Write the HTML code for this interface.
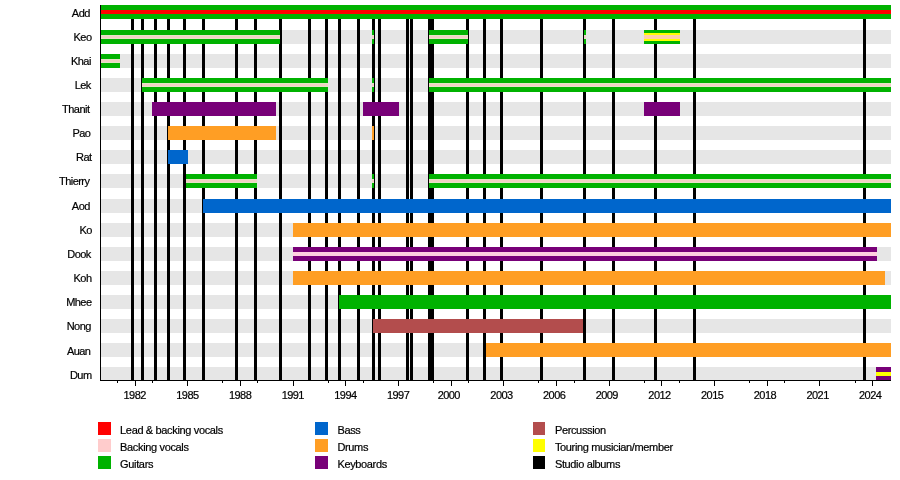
<!DOCTYPE html>
<html><head><meta charset="utf-8"><title>Timeline</title>
<style>
html,body{margin:0;padding:0;background:#fff;}
body{width:900px;height:480px;position:relative;overflow:hidden;font-family:"Liberation Sans",sans-serif;font-size:11px;color:#000;}
.a{position:absolute;}
.bg{position:absolute;left:101px;width:790px;height:14.2px;background:#e6e6e6;}
.ln{position:absolute;top:19px;height:361px;width:3px;background:#000;}
.nm{position:absolute;left:0;width:89.8px;text-align:right;height:14px;line-height:14px;letter-spacing:-0.55px;white-space:nowrap;-webkit-text-stroke:0.2px #000;}
.yr{position:absolute;top:388px;width:40px;text-align:center;height:14px;line-height:14px;letter-spacing:-0.55px;-webkit-text-stroke:0.2px #000;}
.tk{position:absolute;top:380px;width:1px;background:#000;}
.sq{position:absolute;width:12.5px;height:12.8px;}
.lg{position:absolute;height:14px;line-height:14px;letter-spacing:-0.35px;white-space:nowrap;-webkit-text-stroke:0.2px #000;}
</style></head><body>

<div class="bg" style="top:5px"></div>
<div class="bg" style="top:30px"></div>
<div class="bg" style="top:54px"></div>
<div class="bg" style="top:78px"></div>
<div class="bg" style="top:102px"></div>
<div class="bg" style="top:126px"></div>
<div class="bg" style="top:150px"></div>
<div class="bg" style="top:174px"></div>
<div class="bg" style="top:199px"></div>
<div class="bg" style="top:223.3px"></div>
<div class="bg" style="top:247px"></div>
<div class="bg" style="top:271px"></div>
<div class="bg" style="top:295px"></div>
<div class="bg" style="top:319px"></div>
<div class="bg" style="top:343px"></div>
<div class="bg" style="top:367px"></div>
<div class="ln" style="left:130.9px"></div>
<div class="ln" style="left:140.7px"></div>
<div class="ln" style="left:154.1px"></div>
<div class="ln" style="left:166.9px"></div>
<div class="ln" style="left:182.9px"></div>
<div class="ln" style="left:202.1px"></div>
<div class="ln" style="left:234.9px"></div>
<div class="ln" style="left:254.1px"></div>
<div class="ln" style="left:278.9px"></div>
<div class="ln" style="left:307.8px"></div>
<div class="ln" style="left:324.7px"></div>
<div class="ln" style="left:338.1px"></div>
<div class="ln" style="left:357.0px"></div>
<div class="ln" style="left:372.0px"></div>
<div class="ln" style="left:377.9px"></div>
<div class="ln" style="left:406.0px"></div>
<div class="ln" style="left:410.0px"></div>
<div class="ln" style="left:428.4px"></div>
<div class="ln" style="left:431.0px"></div>
<div class="ln" style="left:466.2px"></div>
<div class="ln" style="left:482.9px"></div>
<div class="ln" style="left:499.8px"></div>
<div class="ln" style="left:540.1px"></div>
<div class="ln" style="left:582.9px"></div>
<div class="ln" style="left:611.8px"></div>
<div class="ln" style="left:654.1px"></div>
<div class="ln" style="left:692.9px"></div>
<div class="ln" style="left:862.9px"></div>
<div class="a" style="left:101px;top:5px;width:790.0px;height:14px;background:#00b200"></div>
<div class="a" style="left:101px;top:10px;width:790.0px;height:4px;background:#ff0000"></div>
<div class="a" style="left:101px;top:30px;width:178.7px;height:14px;background:#00b200"></div>
<div class="a" style="left:101px;top:35px;width:178.7px;height:4px;background:linear-gradient(#dcefc6,#efd2c4 30%,#efd2c4 70%,#dcefc6)"></div>
<div class="a" style="left:372px;top:30px;width:2.0px;height:14px;background:#00b200"></div>
<div class="a" style="left:372px;top:35px;width:2.0px;height:4px;background:linear-gradient(#dcefc6,#efd2c4 30%,#efd2c4 70%,#dcefc6)"></div>
<div class="a" style="left:429.4px;top:30px;width:38.4px;height:14px;background:#00b200"></div>
<div class="a" style="left:429.4px;top:35px;width:38.4px;height:4px;background:linear-gradient(#dcefc6,#efd2c4 30%,#efd2c4 70%,#dcefc6)"></div>
<div class="a" style="left:584.4px;top:30px;width:1.8px;height:14px;background:#00b200"></div>
<div class="a" style="left:584.4px;top:35px;width:1.8px;height:4px;background:linear-gradient(#dcefc6,#efd2c4 30%,#efd2c4 70%,#dcefc6)"></div>
<div class="a" style="left:644px;top:30px;width:36.0px;height:14px;background:#00b200"></div>
<div class="a" style="left:644px;top:33px;width:36.0px;height:8px;background:#ffff00"></div>
<div class="a" style="left:644px;top:35px;width:36.0px;height:4px;background:#ffcfa8"></div>
<div class="a" style="left:101px;top:54px;width:19.0px;height:14px;background:#00b200"></div>
<div class="a" style="left:101px;top:59px;width:19.0px;height:4px;background:linear-gradient(#dcefc6,#efd2c4 30%,#efd2c4 70%,#dcefc6)"></div>
<div class="a" style="left:142px;top:78px;width:185.7px;height:14px;background:#00b200"></div>
<div class="a" style="left:142px;top:83px;width:185.7px;height:4px;background:linear-gradient(#dcefc6,#efd2c4 30%,#efd2c4 70%,#dcefc6)"></div>
<div class="a" style="left:372px;top:78px;width:2.0px;height:14px;background:#00b200"></div>
<div class="a" style="left:372px;top:83px;width:2.0px;height:4px;background:linear-gradient(#dcefc6,#efd2c4 30%,#efd2c4 70%,#dcefc6)"></div>
<div class="a" style="left:429.4px;top:78px;width:461.6px;height:14px;background:#00b200"></div>
<div class="a" style="left:429.4px;top:83px;width:461.6px;height:4px;background:linear-gradient(#dcefc6,#efd2c4 30%,#efd2c4 70%,#dcefc6)"></div>
<div class="a" style="left:152px;top:102px;width:123.8px;height:14px;background:#780078"></div>
<div class="a" style="left:363.2px;top:102px;width:35.7px;height:14px;background:#780078"></div>
<div class="a" style="left:644px;top:102px;width:36.0px;height:14px;background:#780078"></div>
<div class="a" style="left:168px;top:126px;width:107.8px;height:14px;background:#ff9e24"></div>
<div class="a" style="left:372px;top:126px;width:2.0px;height:14px;background:#ff9e24"></div>
<div class="a" style="left:168px;top:150px;width:20.2px;height:14px;background:#0066cc"></div>
<div class="a" style="left:186px;top:174px;width:70.8px;height:14px;background:#00b200"></div>
<div class="a" style="left:186px;top:179px;width:70.8px;height:4px;background:linear-gradient(#dcefc6,#efd2c4 30%,#efd2c4 70%,#dcefc6)"></div>
<div class="a" style="left:372px;top:174px;width:2.0px;height:14px;background:#00b200"></div>
<div class="a" style="left:372px;top:179px;width:2.0px;height:4px;background:linear-gradient(#dcefc6,#efd2c4 30%,#efd2c4 70%,#dcefc6)"></div>
<div class="a" style="left:429.4px;top:174px;width:461.6px;height:14px;background:#00b200"></div>
<div class="a" style="left:429.4px;top:179px;width:461.6px;height:4px;background:linear-gradient(#dcefc6,#efd2c4 30%,#efd2c4 70%,#dcefc6)"></div>
<div class="a" style="left:202.8px;top:199px;width:688.2px;height:14px;background:#0066cc"></div>
<div class="a" style="left:293px;top:223.3px;width:598.0px;height:14px;background:#ff9e24"></div>
<div class="a" style="left:293px;top:247px;width:583.8px;height:14px;background:#780078"></div>
<div class="a" style="left:293px;top:252px;width:583.8px;height:4px;background:#ffcfe0"></div>
<div class="a" style="left:293px;top:271px;width:592.1px;height:14px;background:#ff9e24"></div>
<div class="a" style="left:338.8px;top:295px;width:552.2px;height:14px;background:#00b200"></div>
<div class="a" style="left:373.1px;top:319px;width:210.0px;height:14px;background:#b34d4d"></div>
<div class="a" style="left:486.1px;top:343px;width:404.9px;height:14px;background:#ff9e24"></div>
<div class="a" style="left:876.3px;top:367px;width:14.7px;height:14px;background:#780078"></div>
<div class="a" style="left:876.3px;top:372px;width:14.7px;height:4px;background:#ffff00"></div>
<div class="a" style="left:100px;top:5px;width:1px;height:376px;background:#000"></div>
<div class="a" style="left:100px;top:380px;width:791px;height:1px;background:#000"></div>
<div class="tk" style="left:117.0px;height:2.7px"></div>
<div class="tk" style="left:134.5px;height:5.5px"></div>
<div class="yr" style="left:114.7px">1982</div>
<div class="tk" style="left:152.1px;height:2.7px"></div>
<div class="tk" style="left:187.2px;height:5.5px"></div>
<div class="yr" style="left:167.4px">1985</div>
<div class="tk" style="left:222.3px;height:2.7px"></div>
<div class="tk" style="left:239.9px;height:5.5px"></div>
<div class="yr" style="left:220.1px">1988</div>
<div class="tk" style="left:257.4px;height:2.7px"></div>
<div class="tk" style="left:292.6px;height:5.5px"></div>
<div class="yr" style="left:272.8px">1991</div>
<div class="tk" style="left:327.7px;height:2.7px"></div>
<div class="tk" style="left:345.2px;height:5.5px"></div>
<div class="yr" style="left:325.4px">1994</div>
<div class="tk" style="left:362.8px;height:2.7px"></div>
<div class="tk" style="left:397.9px;height:5.5px"></div>
<div class="yr" style="left:378.1px">1997</div>
<div class="tk" style="left:433.0px;height:2.7px"></div>
<div class="tk" style="left:450.6px;height:5.5px"></div>
<div class="yr" style="left:428.8px">2000</div>
<div class="tk" style="left:468.2px;height:2.7px"></div>
<div class="tk" style="left:503.3px;height:5.5px"></div>
<div class="yr" style="left:481.5px">2003</div>
<div class="tk" style="left:538.4px;height:2.7px"></div>
<div class="tk" style="left:556.0px;height:5.5px"></div>
<div class="yr" style="left:534.2px">2006</div>
<div class="tk" style="left:573.5px;height:2.7px"></div>
<div class="tk" style="left:608.6px;height:5.5px"></div>
<div class="yr" style="left:586.8px">2009</div>
<div class="tk" style="left:643.8px;height:2.7px"></div>
<div class="tk" style="left:661.3px;height:5.5px"></div>
<div class="yr" style="left:639.5px">2012</div>
<div class="tk" style="left:678.9px;height:2.7px"></div>
<div class="tk" style="left:714.0px;height:5.5px"></div>
<div class="yr" style="left:692.2px">2015</div>
<div class="tk" style="left:749.1px;height:2.7px"></div>
<div class="tk" style="left:766.7px;height:5.5px"></div>
<div class="yr" style="left:744.9px">2018</div>
<div class="tk" style="left:784.2px;height:2.7px"></div>
<div class="tk" style="left:819.4px;height:5.5px"></div>
<div class="yr" style="left:797.6px">2021</div>
<div class="tk" style="left:854.5px;height:2.7px"></div>
<div class="tk" style="left:872.0px;height:5.5px"></div>
<div class="yr" style="left:850.2px">2024</div>
<div class="nm" style="top:5.5px;width:89.8px">Add</div>
<div class="nm" style="top:29.5px;width:91.5px">Keo</div>
<div class="nm" style="top:53.5px;width:90.8px">Khai</div>
<div class="nm" style="top:77.5px;width:90.8px">Lek</div>
<div class="nm" style="top:101.5px;width:89.4px">Thanit</div>
<div class="nm" style="top:125.5px;width:90.4px">Pao</div>
<div class="nm" style="top:149.5px;width:91.5px">Rat</div>
<div class="nm" style="top:173.5px;width:89.4px">Thierry</div>
<div class="nm" style="top:198.5px;width:89.8px">Aod</div>
<div class="nm" style="top:222.5px;width:91.8px">Ko</div>
<div class="nm" style="top:246.5px;width:90.8px">Dook</div>
<div class="nm" style="top:270.5px;width:91.5px">Koh</div>
<div class="nm" style="top:294.5px;width:91.5px">Mhee</div>
<div class="nm" style="top:318.5px;width:90.8px">Nong</div>
<div class="nm" style="top:343.5px;width:90.4px">Auan</div>
<div class="nm" style="top:367.5px;width:91.5px">Dum</div>
<div class="sq" style="left:98px;top:422px;background:#ff0000"></div>
<div class="lg" style="left:120.1px;top:423px">Lead &amp; backing vocals</div>
<div class="sq" style="left:98px;top:439.1px;background:#ffcccc"></div>
<div class="lg" style="left:120.1px;top:440px">Backing vocals</div>
<div class="sq" style="left:98px;top:456.1px;background:#00b200"></div>
<div class="lg" style="left:120.1px;top:456.5px">Guitars</div>
<div class="sq" style="left:315.3px;top:422px;background:#0066cc"></div>
<div class="lg" style="left:337.4px;top:423px">Bass</div>
<div class="sq" style="left:315.3px;top:439.1px;background:#ff9e24"></div>
<div class="lg" style="left:337.4px;top:440px">Drums</div>
<div class="sq" style="left:315.3px;top:456.1px;background:#780078"></div>
<div class="lg" style="left:337.4px;top:456.5px">Keyboards</div>
<div class="sq" style="left:532.8px;top:422px;background:#b34d4d"></div>
<div class="lg" style="left:554.9px;top:423px">Percussion</div>
<div class="sq" style="left:532.8px;top:439.1px;background:#ffff00"></div>
<div class="lg" style="left:554.9px;top:440px">Touring musician/member</div>
<div class="sq" style="left:532.8px;top:456.1px;background:#000"></div>
<div class="lg" style="left:554.9px;top:456.5px">Studio albums</div>
</body></html>
